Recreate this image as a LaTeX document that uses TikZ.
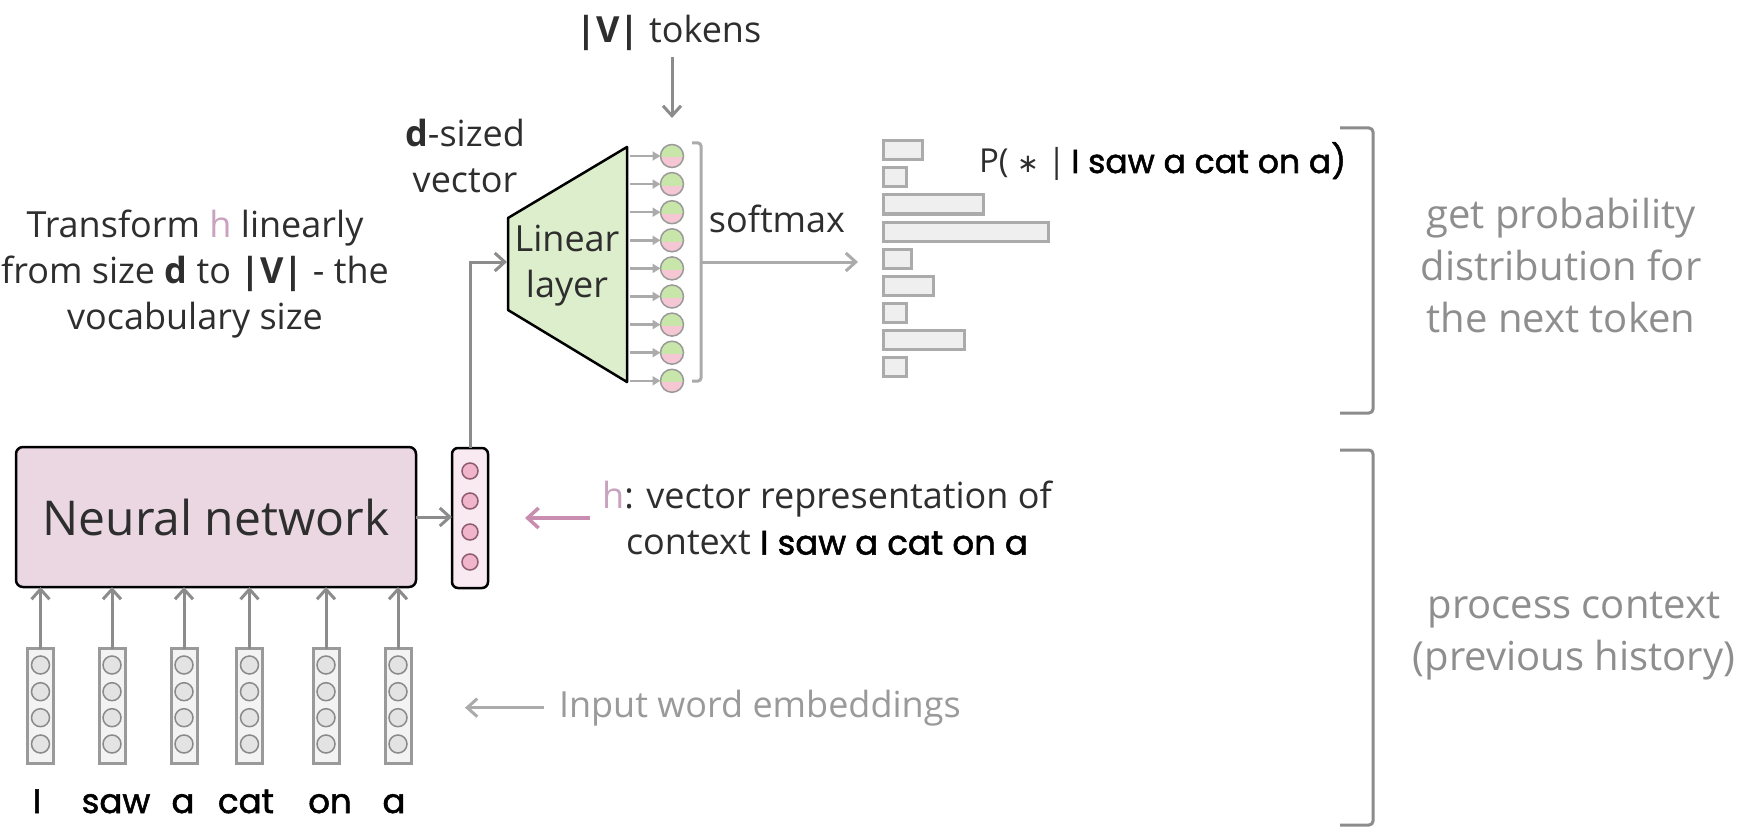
\documentclass[tikz,border=0pt]{standalone}
\usepackage{fontspec}
\setmainfont{Open Sans}
\newfontfamily\comicfont{Poppins}[FakeBold=1.6]
\newfontfamily\symbfont{DejaVu Sans}
\usetikzlibrary{arrows.meta,calc}
\definecolor{txt}{HTML}{2E2E2E}
\definecolor{nnfill}{HTML}{EAD7E2}
\definecolor{hfill}{HTML}{F9E9F0}
\definecolor{hcirc}{HTML}{F0B5CA}
\definecolor{hcircb}{HTML}{8E5C72}
\definecolor{linfill}{HTML}{DDEECC}
\definecolor{ogreen}{HTML}{C8E6AA}
\definecolor{opink}{HTML}{F5C6D3}
\definecolor{ocircb}{HTML}{9A9A9A}
\definecolor{barfill}{HTML}{EFEFEF}
\definecolor{barline}{HTML}{ABABAB}
\definecolor{embfill}{HTML}{F3F3F3}
\definecolor{embline}{HTML}{9A9A9A}
\definecolor{embcirc}{HTML}{E3E3E3}
\definecolor{embcircb}{HTML}{8A8A8A}
\definecolor{arrgray}{HTML}{8C8C8C}
\definecolor{lightarr}{HTML}{ABABAB}
\definecolor{pinkarr}{HTML}{C98DB0}
\definecolor{hletter}{HTML}{C9A2BE}
\definecolor{sidetxt}{HTML}{8E8E8E}
\definecolor{embtxt}{HTML}{9A9A9A}
\newcommand\fsmain{\fontsize{36}{46}\selectfont}
\newcommand\fsbig{\fontsize{48}{58}\selectfont}
\newcommand\fsside{\fontsize{40}{52}\selectfont}
\newcommand\fscomic{\fontsize{34}{40}\selectfont\comicfont}
\begin{document}
\begin{tikzpicture}[x=1pt,y=-1pt,
  every node/.style={inner sep=0pt,outer sep=0pt,text=txt,font=\fsmain},
  garr/.style={draw=arrgray,line width=3pt,-{Straight Barb[length=10pt,width=18pt]}},
  lgarr/.style={draw=lightarr,line width=3pt,-{Straight Barb[length=10pt,width=18pt]}},
  larr/.style={draw=lightarr,line width=2.5pt,-{Triangle[length=8pt,width=9pt]}},
  parr/.style={draw=pinkarr,line width=3.5pt,-{Straight Barb[length=11pt,width=20pt]}},
  nnbox/.style={draw=black,line width=2.5pt,fill=nnfill,rounded corners=7pt,minimum width=400,minimum height=140,font=\fsbig},
  hvec/.style={draw=black,line width=2.5pt,fill=hfill,rounded corners=6pt,minimum width=36,minimum height=140},
  hcell/.style={circle,draw=hcircb,line width=1.5pt,fill=hcirc,minimum size=16},
  ocell/.style={circle,minimum size=23},
  pbar/.style={draw=barline,fill=barfill,line width=3pt,anchor=west,minimum height=19},
  embcol/.style={draw=embline,fill=embfill,line width=3pt,minimum width=26,minimum height=115},
  embcell/.style={circle,draw=embcircb,line width=1.5pt,fill=embcirc,minimum size=18},
  wordlbl/.style={font=\fscomic,text=black,anchor=base},
  sidebracket/.style={draw=arrgray,line width=3pt,rounded corners=4pt},
  sidetext/.style={font=\fsside,text=sidetxt,align=center},
]
\fill[white] (0,0) rectangle (1742,829);
\useasboundingbox (0,0) rectangle (1742,829);

% neural network and h vector
\node[nnbox] (nn) at (216,517) {Neural network};
\node[hvec] (hv) at (470,518) {};
\foreach \i/\y in {1/471,2/501,3/532,4/562}
  \node[hcell] (hc\i) at (470,\y) {};
\draw[garr] (nn.east) -- (nn.east -| hv.west);

% linear layer
\draw[line width=2.5pt,fill=linfill,line join=round]
  (508,218) coordinate (linTL) -- (627,147) coordinate (linTR)
  -- (627,382) coordinate (linBR) -- (508,310) coordinate (linBL) -- cycle;
\node[align=center] (lintext) at (567,266) {Linear\\layer};
\coordinate (linIn) at (507,262);
\draw[garr] (hv.north) |- (linIn);

% output units
\foreach \i in {1,...,9}{
  \pgfmathsetmacro\yy{156+28.1*(\i-1)}
  \node[ocell] (oc\i) at (672,\yy) {};
  \fill[opink] (oc\i) circle[radius=11.5pt];
  \begin{scope}
    \clip (658,\yy-13) rectangle (686,\yy+1);
    \fill[ogreen] (oc\i) circle[radius=11.5pt];
  \end{scope}
  \draw[ocircb,line width=1.5pt] (oc\i) circle[radius=11.5pt];
  \draw[larr] (630,\yy) -- (oc\i.west);
}
\draw[draw=lightarr,line width=3pt,rounded corners=3pt]
  (692,143) -- (701,143) -- (701,381) -- (692,381);
\coordinate (brMid) at (701,262);
\coordinate (smEnd) at (858,262);
\draw[lgarr] (brMid) -- (smEnd);
\node[anchor=base] (sm) at (777,233) {softmax};

% |V| tokens
\node[anchor=base] (vt) at (669,43) {\textbf{|V|} tokens};
\coordinate (vtStart) at (672,57);
\coordinate (vtEnd) at (672,118);
\draw[garr] (vtStart) -- (vtEnd);

% d-sized vector
\node[align=center] (dsz) at (465,156) {\textbf{d}-sized\\vector};

% left explanation
\node[align=center] (transf) at (195,274)
  {Transform {\color{hletter}h} linearly\\from size \textbf{d} to \textbf{|V|} - the\\vocabulary size};

% bars
\foreach \i/\r in {1/922.5,2/906.5,3/983.5,4/1048.5,5/911.5,6/933.5,7/906.5,8/964.5,9/906.5}{
  \pgfmathsetmacro\yy{150.5+27*(\i-1)}
  \pgfmathsetmacro\ww{\r-883}
  \node[pbar,minimum width=\ww] (b\i) at (883,\yy) {};
}
\node[anchor=base west] (ptext) at (979,173)
  {\fontsize{33}{40}\selectfont P( {\fontsize{26}{30}\selectfont\symbfont ∗} |\,{\comicfont\color{black}I saw a cat on a)}};

% brackets and side texts
\draw[sidebracket] (1340,128) coordinate (brA1) -- (1373,128) -- (1373,413) -- (1340,413) coordinate (brA2);
\draw[sidebracket] (1340,450) coordinate (brB1) -- (1373,450) -- (1373,825) -- (1340,825) coordinate (brB2);
\node[sidetext] (side1) at (1561,265) {get probability\\distribution for\\the next token};
\node[sidetext] (side2) at (1574,636) {process context\\(previous history)};

% h description
\node[align=center] (htext) at (827,518)
  {{\color{hletter}h}: vector representation of\\context {\fscomic\color{black}I saw a cat on a}};
\draw[parr] ([xshift=-12pt]htext.west) -- ([xshift=37pt]hv.east);

% embeddings
\foreach \i/\x/\wx/\w in {1/40.5/37/I,2/112/116/saw,3/184/183/a,4/249.5/246/cat,5/326/330/on,6/398/394/a}{
  \node[embcol] (e\i) at (\x,706) {};
  \foreach \j/\y in {1/665,2/691.7,3/717.7,4/744}
    \node[embcell] (e\i-\j) at (\x,\y) {};
  \draw[garr] (e\i.north) -- (e\i.north |- nn.south);
  \node[wordlbl] (w\i) at (\wx,813) {\w};
}
\node[anchor=base west,text=embtxt] (iwe) at (559,717) {Input word embeddings};
\draw[lgarr] ([xshift=-15pt]iwe.west) -- ++(-79,0);
\end{tikzpicture}
\end{document}
